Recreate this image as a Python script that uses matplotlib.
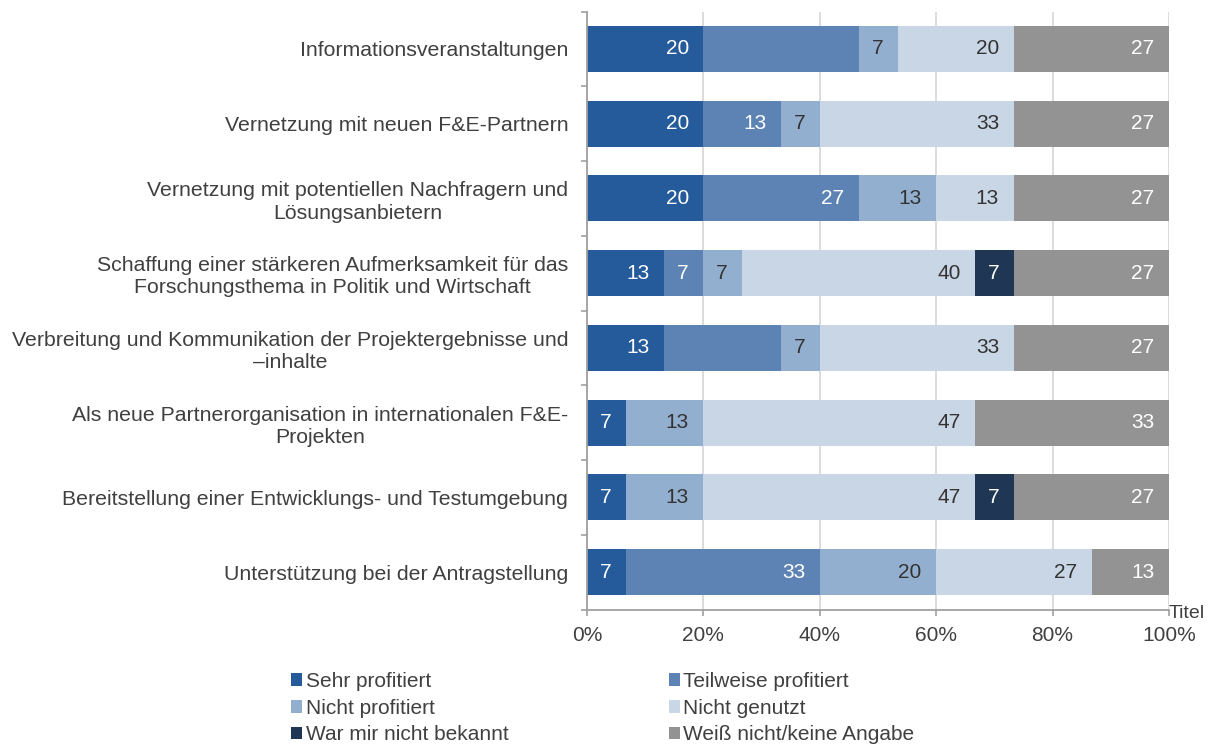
import matplotlib
matplotlib.use("Agg")
import matplotlib.pyplot as plt
import numpy as np
from matplotlib.ticker import FixedLocator, FuncFormatter

plt.rcParams['font.family'] = ['Liberation Sans', 'DejaVu Sans']

categories = [
    "Informationsveranstaltungen",
    "Vernetzung mit neuen F&E-Partnern",
    "Vernetzung mit potentiellen Nachfragern und\nLösungsanbietern",
    "Schaffung einer stärkeren Aufmerksamkeit für das\nForschungsthema in Politik und Wirtschaft",
    "Verbreitung und Kommunikation der Projektergebnisse und\n–inhalte",
    "Als neue Partnerorganisation in internationalen F&E-\nProjekten",
    "Bereitstellung einer Entwicklungs- und Testumgebung",
    "Unterstützung bei der Antragstellung",
]

series_names = ["Sehr profitiert", "Teilweise profitiert", "Nicht profitiert",
                "Nicht genutzt", "War mir nicht bekannt", "Weiß nicht/keine Angabe"]

sehr       = [20.0, 20.0, 20.0, 13.3, 13.3, 6.7, 6.7, 6.7]
teilweise  = [26.7, 13.3, 26.7, 6.7, 20.0, 0.0, 0.0, 33.3]
nicht_prof = [6.7, 6.7, 13.3, 6.7, 6.7, 13.3, 13.3, 20.0]
genutzt    = [20.0, 33.3, 13.3, 40.0, 33.3, 46.7, 46.7, 26.7]
bekannt    = [0.0, 0.0, 0.0, 6.7, 0.0, 0.0, 6.7, 0.0]
weiss      = [26.7, 26.7, 26.7, 26.7, 26.7, 33.3, 26.7, 13.3]

# data labels as shown (None = not shown)
lab_sehr      = ["20", "20", "20", "13", "13", "7", "7", "7"]
lab_teilweise = [None, "13", "27", "7", None, None, None, "33"]
lab_nichtprof = ["7", "7", "13", "7", "7", "13", "13", "20"]
lab_genutzt   = ["20", "33", "13", "40", "33", "47", "47", "27"]
lab_bekannt   = [None, None, None, "7", None, None, "7", None]
lab_weiss     = ["27", "27", "27", "27", "27", "33", "27", "13"]

x_ticks = [0, 20, 40, 60, 80, 100]

colors = ["#255A9B", "#5D83B5", "#93AFCF", "#C9D6E6", "#1F3655", "#939393"]
label_colors = ["white", "white", "#333333", "#333333", "white", "white"]

values = [sehr, teilweise, nicht_prof, genutzt, bekannt, weiss]
labels = [lab_sehr, lab_teilweise, lab_nichtprof, lab_genutzt, lab_bekannt, lab_weiss]

W, H = 1213, 745
fig = plt.figure(figsize=(W / 100, H / 100), dpi=100)
ax = fig.add_axes([587 / W, 1 - 609.5 / H, (1169 - 587) / W, (609.5 - 11.5) / H])

y = np.arange(len(categories))
left = np.zeros(len(categories))
handles = []
for vals, labs, col, lcol, name in zip(values, labels, colors, label_colors, series_names):
    vals = np.array(vals)
    bars = ax.barh(y, vals, left=left, height=0.615, color=col, label=name, zorder=2)
    handles.append(bars)
    for i, (v, lab) in enumerate(zip(vals, labs)):
        if lab is not None and v > 0:
            ax.annotate(lab, xy=(min(left[i] + v, 100), y[i]), xytext=(-10.5, 0),
                        textcoords="offset points", ha="right", va="center",
                        color=lcol, fontsize=15, zorder=3, annotation_clip=False)
    left = left + vals

ax.set_xlim(0, 100)
ax.set_ylim(len(categories) - 0.5, -0.5)

ax.xaxis.set_major_locator(FixedLocator(x_ticks))
ax.xaxis.set_major_formatter(FuncFormatter(lambda v, p: f"{int(v)}%"))
ax.grid(axis="x", color="#D9D9D9", linewidth=1.3, zorder=0)
ax.set_axisbelow(True)

ax.set_yticks(y)
ax.set_yticklabels(categories, multialignment="center", linespacing=1.22)
ax.set_yticks(np.arange(len(categories) + 1) - 0.5, minor=True)
ax.tick_params(axis="y", which="major", length=0, pad=13.5, labelsize=15.3, labelcolor="#404040")
ax.tick_params(axis="y", which="minor", length=4, color="#A0A0A0", width=1.2)
ax.tick_params(axis="x", which="major", length=4, color="#A0A0A0", width=1.2,
               labelsize=15, labelcolor="#404040", pad=7.6)

for s in ["top", "right"]:
    ax.spines[s].set_visible(False)
for s in ["left", "bottom"]:
    ax.spines[s].set_color("#A0A0A0")
    ax.spines[s].set_linewidth(1.3)

ax.annotate("Titel", xy=(1.0, 0.0), xycoords="axes fraction",
            xytext=(-0.5, 3.5), textcoords="offset points",
            ha="left", va="top", fontsize=14, color="#404040")

# legend: row-wise order -> reorder for column filling
order = [0, 2, 4, 1, 3, 5]
leg = fig.legend([handles[i] for i in order], [series_names[i] for i in order],
                 ncol=2, loc="upper left",
                 bbox_to_anchor=(291 / W, 1 - 672 / H),
                 frameon=False, fontsize=15, borderpad=0, borderaxespad=0,
                 handlelength=0.55, handleheight=0.55, handletextpad=0.15,
                 labelspacing=0.37, columnspacing=7.7)
for t in leg.get_texts():
    t.set_color("#404040")

fig.savefig("out.png", dpi=100)
